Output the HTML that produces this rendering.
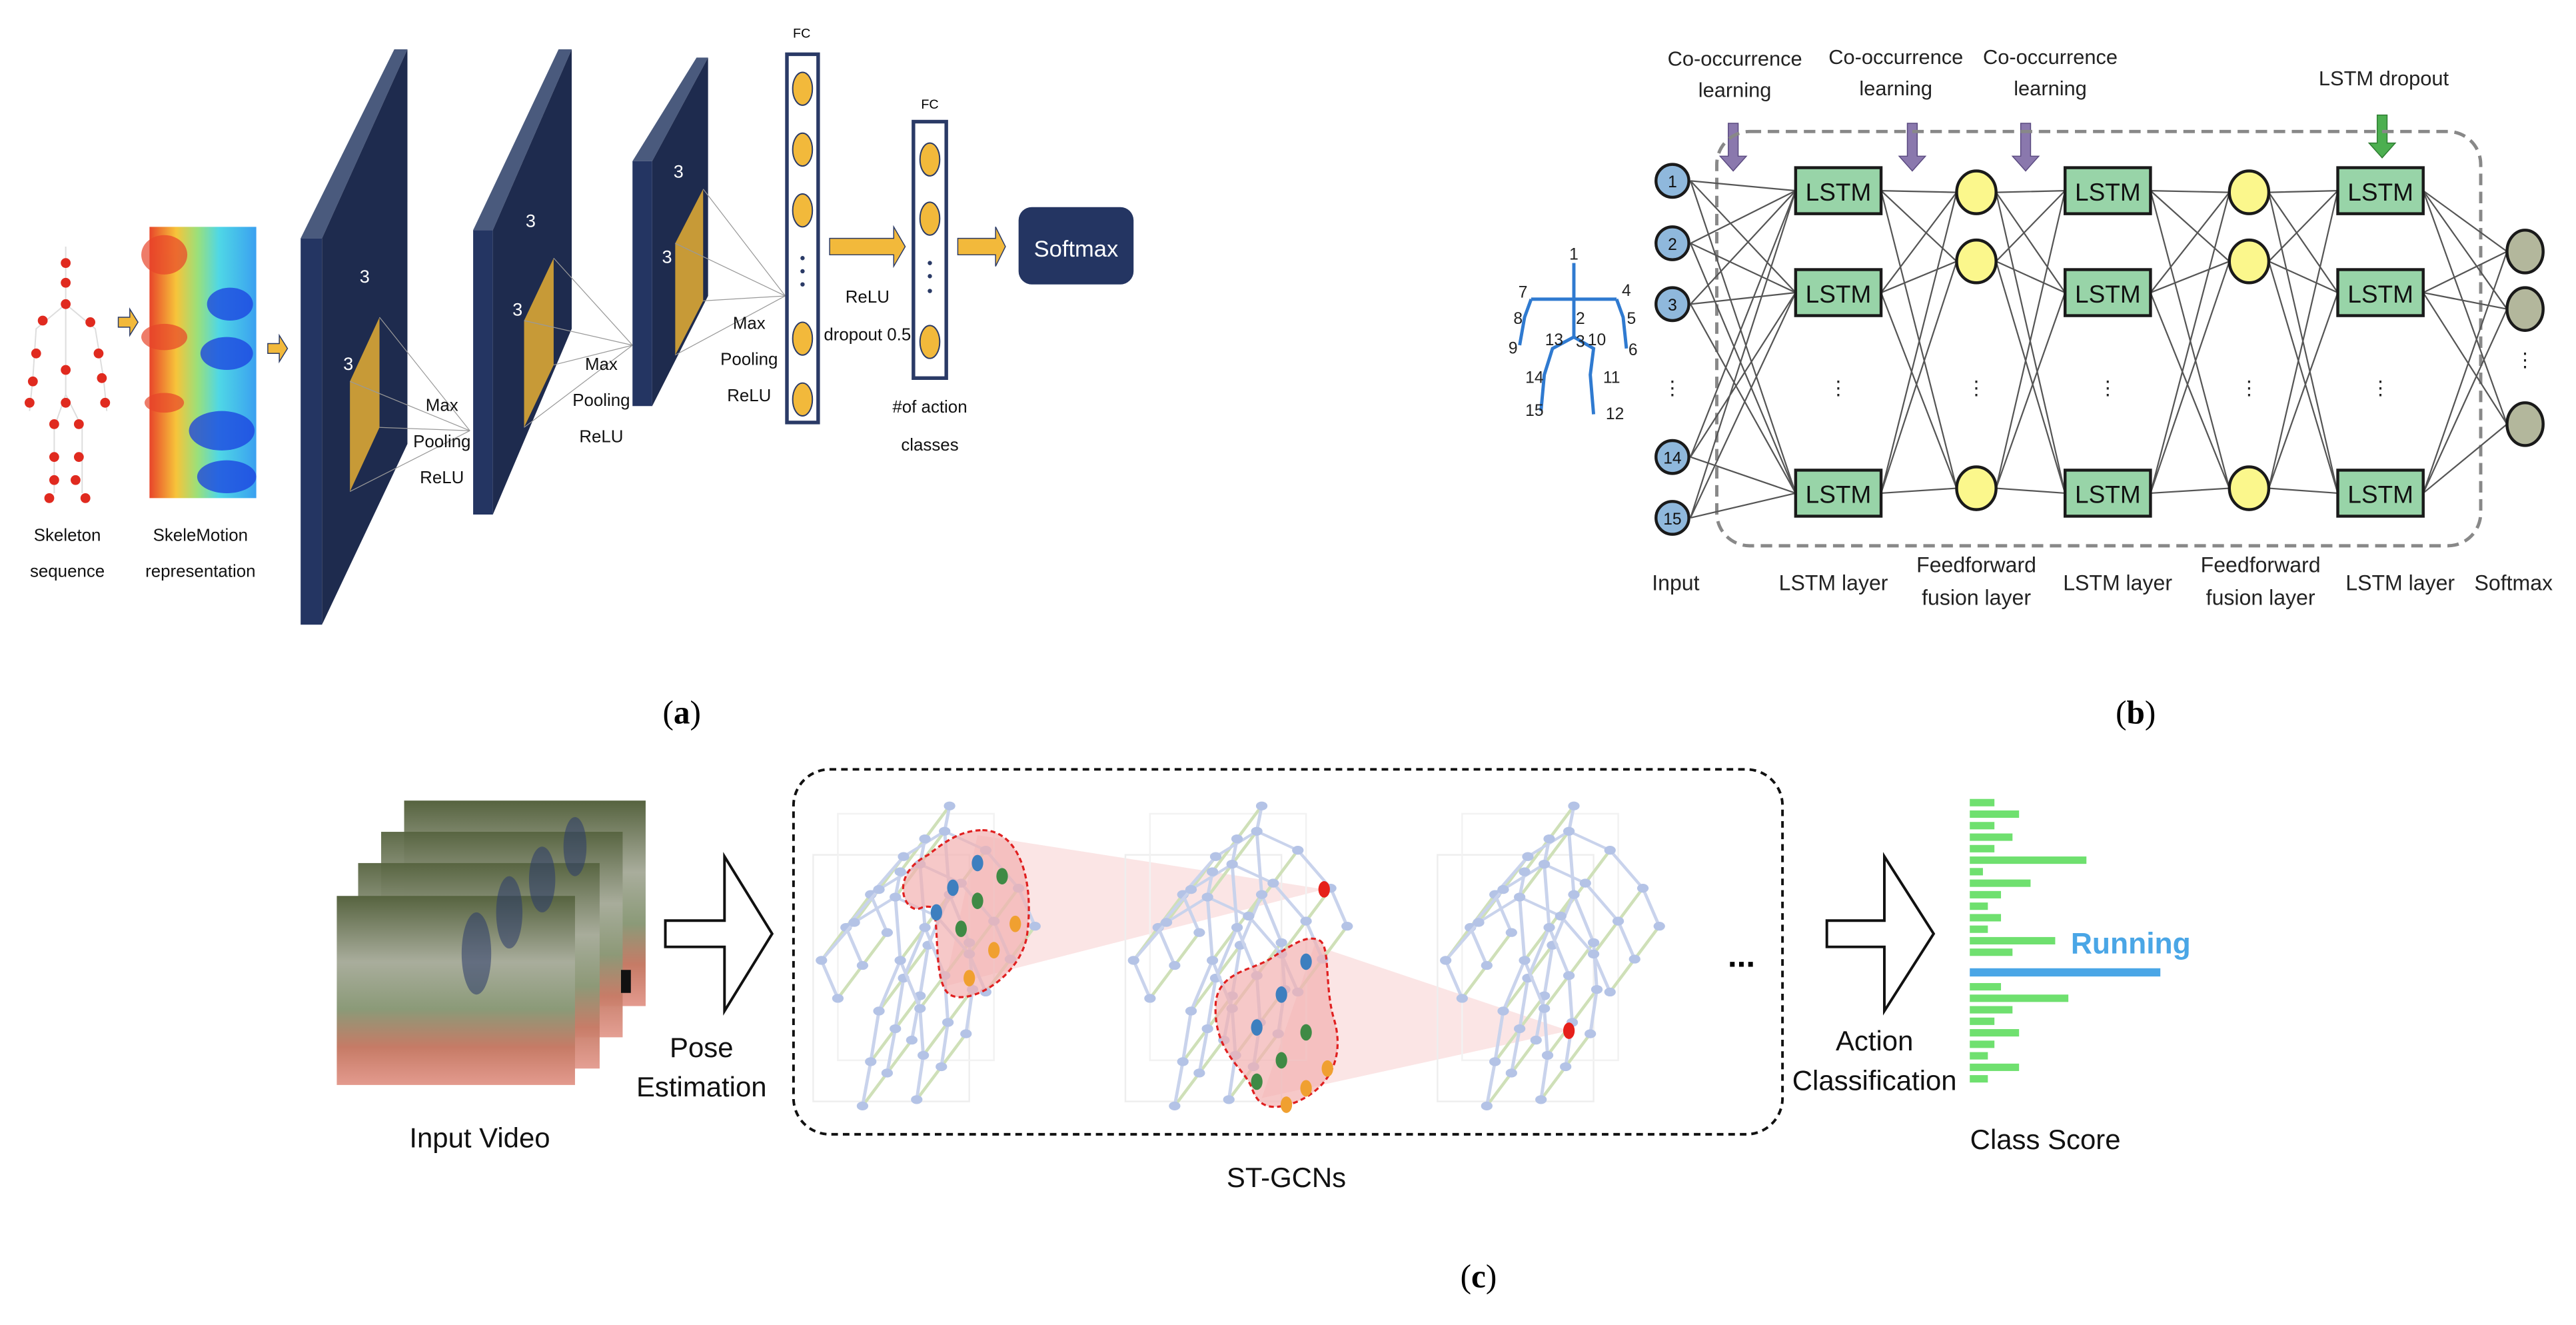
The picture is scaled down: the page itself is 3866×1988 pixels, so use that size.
<!DOCTYPE html>
<html><head><meta charset="utf-8"><style>
html,body{margin:0;padding:0;background:#fff;}
svg{display:block;}
text{font-family:"Liberation Sans",sans-serif;}
</style></head><body>
<svg width="3866" height="1988" viewBox="0 0 1568 806" preserveAspectRatio="none" xmlns="http://www.w3.org/2000/svg">
<defs>
<linearGradient id="heat" x1="0" y1="0" x2="1" y2="0">
<stop offset="0" stop-color="#e8452a"/><stop offset="0.25" stop-color="#f7c43a"/><stop offset="0.45" stop-color="#9be07a"/><stop offset="0.65" stop-color="#4fd7e6"/><stop offset="1" stop-color="#3aa0f0"/></linearGradient>
<linearGradient id="vid" x1="0" y1="0" x2="0" y2="1">
<stop offset="0" stop-color="#56633f"/><stop offset="0.35" stop-color="#a9ad9c"/><stop offset="0.6" stop-color="#8b9a78"/><stop offset="0.8" stop-color="#c67b66"/><stop offset="1" stop-color="#e39a8e"/></linearGradient>
<g id="sk">
<path d="M548 490L545 510L520 530L500 560L510 590M545 510L570 525L590 555L600 585M545 510L548 560L535 600L530 640L525 675M548 560L560 598L562 635L558 670" fill="none" stroke="#c9d3ec" stroke-width="2"/>
<g fill="#b4c3e6">
<circle cx="548" cy="490" r="3.5"/><circle cx="545" cy="510" r="3.5"/><circle cx="520" cy="530" r="3.5"/><circle cx="570" cy="525" r="3.5"/><circle cx="500" cy="560" r="3.5"/><circle cx="590" cy="555" r="3.5"/><circle cx="510" cy="590" r="3.5"/><circle cx="600" cy="585" r="3.5"/><circle cx="548" cy="560" r="3.5"/><circle cx="535" cy="600" r="3.5"/><circle cx="560" cy="598" r="3.5"/><circle cx="530" cy="640" r="3.5"/><circle cx="562" cy="635" r="3.5"/><circle cx="525" cy="675" r="3.5"/><circle cx="558" cy="670" r="3.5"/>
</g></g>
<g id="gr">
<rect x="495" y="520" width="95" height="150" fill="none" stroke="#eee" stroke-width="1"/>
<rect x="510" y="495" width="95" height="150" fill="none" stroke="#f2f2f2" stroke-width="1"/>
<g transform="translate(0,153) scale(1,0.77)">
<path d="M548 490l30 -52M545 510l30 -52M520 530l30 -52M570 525l30 -52M500 560l30 -52M590 555l30 -52M510 590l30 -52M600 585l30 -52M548 560l30 -52M535 600l30 -52M560 598l30 -52M530 640l30 -52M562 635l30 -52M525 675l30 -52M558 670l30 -52" stroke="#cfe0b8" stroke-width="2" fill="none"/>
<use href="#sk" transform="translate(30,-52)"/>
<use href="#sk" transform="translate(15,-26)"/>
<use href="#sk"/>
</g>
</g>
</defs>

<!-- ===== Panel (a) ===== -->
<g stroke="#ddd" stroke-width="0.8" fill="none">
<path d="M40 150L40 185L22 200L20 230L18 250M40 185L58 200L63 230L65 250M40 185L40 240L33 260L33 300M40 240L50 260L50 300"/>
</g>
<g fill="#e02a1f">
<circle cx="40" cy="160" r="3"/><circle cx="40" cy="172" r="3"/><circle cx="40" cy="185" r="3"/><circle cx="26" cy="195" r="3"/><circle cx="55" cy="196" r="3"/><circle cx="22" cy="215" r="3"/><circle cx="60" cy="215" r="3"/><circle cx="20" cy="232" r="3"/><circle cx="62" cy="230" r="3"/><circle cx="18" cy="245" r="3"/><circle cx="64" cy="245" r="3"/><circle cx="40" cy="225" r="3"/><circle cx="40" cy="245" r="3"/><circle cx="33" cy="258" r="3"/><circle cx="48" cy="258" r="3"/><circle cx="33" cy="278" r="3"/><circle cx="48" cy="278" r="3"/><circle cx="33" cy="292" r="3"/><circle cx="46" cy="292" r="3"/><circle cx="30" cy="303" r="3"/><circle cx="52" cy="303" r="3"/>
</g>
<path d="M72 193h7v-5l5 8l-5 8v-5h-7z" fill="#f2b93b" stroke="#2a3a66" stroke-width="0.6"/>
<rect x="91" y="138" width="65" height="165" fill="url(#heat)"/>
<g fill="#1a3fe0" opacity="0.75"><ellipse cx="140" cy="185" rx="14" ry="10"/><ellipse cx="138" cy="215" rx="16" ry="10"/><ellipse cx="135" cy="262" rx="20" ry="12"/><ellipse cx="138" cy="290" rx="18" ry="10"/></g>
<g fill="#e8452a" opacity="0.7"><ellipse cx="100" cy="155" rx="14" ry="12"/><ellipse cx="100" cy="205" rx="14" ry="8"/><ellipse cx="100" cy="245" rx="12" ry="6"/></g>
<path d="M163 209h7v-5l5 8l-5 8v-5h-7z" fill="#f2b93b" stroke="#2a3a66" stroke-width="0.6"/>
<g font-size="10.5" fill="#111" text-anchor="middle">
<text x="41" y="329">Skeleton</text><text x="41" y="351">sequence</text>
<text x="122" y="329">SkeleMotion</text><text x="122" y="351">representation</text>
</g>
<!-- block 1 -->
<polygon points="183,145 196,145 248,30 240,30" fill="#4a5a7d"/>
<polygon points="183,145 196,145 196,380 183,380" fill="#243562"/>
<polygon points="196,145 248,30 248,270 196,380" fill="#1e2b4e"/>
<polygon points="213,232 231,193 231,260 213,299" fill="#c79a37"/>
<g stroke="#999" stroke-width="0.5"><line x1="231" y1="193" x2="286" y2="262"/><line x1="213" y1="232" x2="286" y2="262"/><line x1="231" y1="260" x2="286" y2="262"/><line x1="213" y1="299" x2="286" y2="262"/></g>
<!-- block 2 -->
<polygon points="288,140 300,140 348,30 340,30" fill="#4a5a7d"/>
<polygon points="288,140 300,140 300,313 288,313" fill="#243562"/>
<polygon points="300,140 348,30 348,200 300,313" fill="#1e2b4e"/>
<polygon points="319,195 337,157 337,222 319,260" fill="#c79a37"/>
<g stroke="#999" stroke-width="0.5"><line x1="337" y1="157" x2="385" y2="210"/><line x1="319" y1="195" x2="385" y2="210"/><line x1="337" y1="222" x2="385" y2="210"/><line x1="319" y1="260" x2="385" y2="210"/></g>
<!-- block 3 -->
<polygon points="385,98 397,98 431,35 424,35" fill="#4a5a7d"/>
<polygon points="385,98 397,98 397,247 385,247" fill="#243562"/>
<polygon points="397,98 431,35 431,180 397,247" fill="#1e2b4e"/>
<polygon points="411,148 428,115 428,183 411,216" fill="#c79a37"/>
<g stroke="#999" stroke-width="0.5"><line x1="428" y1="115" x2="478" y2="180"/><line x1="411" y1="148" x2="478" y2="180"/><line x1="428" y1="183" x2="478" y2="180"/><line x1="411" y1="216" x2="478" y2="180"/></g>
<g fill="#fff" font-size="11" text-anchor="middle">
<text x="222" y="172">3</text><text x="212" y="225">3</text>
<text x="323" y="138">3</text><text x="315" y="192">3</text>
<text x="413" y="108">3</text><text x="406" y="160">3</text>
</g>
<!-- FC1 -->
<rect x="479" y="33" width="19" height="224" fill="#fff" stroke="#2a3a66" stroke-width="2.2"/>
<g fill="#f2b93b" stroke="#2a3a66" stroke-width="0.8">
<ellipse cx="488.5" cy="54" rx="6" ry="10"/><ellipse cx="488.5" cy="91" rx="6" ry="10"/><ellipse cx="488.5" cy="128" rx="6" ry="10"/><ellipse cx="488.5" cy="206" rx="6" ry="10"/><ellipse cx="488.5" cy="243" rx="6" ry="10"/></g>
<g fill="#2a3a66"><circle cx="488.5" cy="157" r="1.3"/><circle cx="488.5" cy="165" r="1.3"/><circle cx="488.5" cy="173" r="1.3"/></g>
<text x="488" y="23" font-size="8" text-anchor="middle">FC</text>
<path d="M505 145h39v-7l7 12l-7 12v-7h-39z" fill="#f2b93b" stroke="#2a3a66" stroke-width="0.6"/>
<!-- FC2 -->
<rect x="556" y="74" width="20" height="156" fill="#fff" stroke="#2a3a66" stroke-width="2.2"/>
<g fill="#f2b93b" stroke="#2a3a66" stroke-width="0.8">
<ellipse cx="566" cy="97" rx="6" ry="10"/><ellipse cx="566" cy="133" rx="6" ry="10"/><ellipse cx="566" cy="208" rx="6" ry="10"/></g>
<g fill="#2a3a66"><circle cx="566" cy="160" r="1.3"/><circle cx="566" cy="168" r="1.3"/><circle cx="566" cy="177" r="1.3"/></g>
<text x="566" y="66" font-size="8" text-anchor="middle">FC</text>
<path d="M583 145h23v-7l6 12l-6 12v-7h-23z" fill="#f2b93b" stroke="#2a3a66" stroke-width="0.6"/>
<rect x="620" y="126" width="70" height="47" rx="8" fill="#243562"/>
<text x="655" y="156" font-size="14" fill="#fff" text-anchor="middle">Softmax</text>
<g font-size="10.5" fill="#111" text-anchor="middle">
<text x="269" y="250">Max</text><text x="269" y="272">Pooling</text><text x="269" y="294">ReLU</text>
<text x="366" y="225">Max</text><text x="366" y="247">Pooling</text><text x="366" y="269">ReLU</text>
<text x="456" y="200">Max</text><text x="456" y="222">Pooling</text><text x="456" y="244">ReLU</text>
<text x="528" y="184">ReLU</text><text x="528" y="207">dropout 0.5</text>
<text x="566" y="251">#of action</text><text x="566" y="274">classes</text>
</g>
<text x="415" y="440" font-size="20" text-anchor="middle" style="font-family:'Liberation Serif',serif">(<tspan font-weight="bold">a</tspan>)</text>

<!-- ===== Panel (b) ===== -->
<g font-size="12.5" fill="#222" text-anchor="middle">
<text x="1056" y="40">Co-occurrence</text><text x="1056" y="59">learning</text>
<text x="1154" y="39">Co-occurrence</text><text x="1154" y="58">learning</text>
<text x="1248" y="39">Co-occurrence</text><text x="1248" y="58">learning</text>
<text x="1451" y="52">LSTM dropout</text>
</g>
<g fill="#8a78ad" stroke="#5a4a80" stroke-width="0.6">
<path d="M1052 75h6v20h5l-8 9l-8 -9h5z"/>
<path d="M1161 75h6v20h5l-8 9l-8 -9h5z"/>
<path d="M1230 75h6v20h5l-8 9l-8 -9h5z"/>
</g>
<path d="M1447 70h6v17h5l-8 9l-8 -9h5z" fill="#4caf50" stroke="#2e7d32" stroke-width="0.6"/>
<rect x="1045" y="80" width="465" height="252" rx="20" fill="none" stroke="#888" stroke-width="2" stroke-dasharray="7,4"/>
<g stroke="#555" stroke-width="0.9" fill="none">
<path d="M1029 110L1093 116M1029 110L1093 178M1029 110L1093 300M1029 148L1093 116M1029 148L1093 178M1029 148L1093 300M1029 185L1093 116M1029 185L1093 178M1029 185L1093 300M1029 278L1093 116M1029 278L1093 178M1029 278L1093 300M1029 315L1093 116M1029 315L1093 178M1029 315L1093 300"/>
<path d="M1145 116L1191 117M1145 116L1191 159M1145 116L1191 297M1145 178L1191 117M1145 178L1191 159M1145 178L1191 297M1145 300L1191 117M1145 300L1191 159M1145 300L1191 297"/>
<path d="M1215 117L1257 116M1215 117L1257 178M1215 117L1257 300M1215 159L1257 116M1215 159L1257 178M1215 159L1257 300M1215 297L1257 116M1215 297L1257 178M1215 297L1257 300"/>
<path d="M1309 116L1357 117M1309 116L1357 159M1309 116L1357 297M1309 178L1357 117M1309 178L1357 159M1309 178L1357 297M1309 300L1357 117M1309 300L1357 159M1309 300L1357 297"/>
<path d="M1381 117L1423 116M1381 117L1423 178M1381 117L1423 300M1381 159L1423 116M1381 159L1423 178M1381 159L1423 300M1381 297L1423 116M1381 297L1423 178M1381 297L1423 300"/>
<path d="M1475 116L1526 153M1475 116L1526 188M1475 116L1526 258M1475 178L1526 153M1475 178L1526 188M1475 178L1526 258M1475 300L1526 153M1475 300L1526 188M1475 300L1526 258"/>
</g>
<g fill="#8fb8dc" stroke="#1a1a1a" stroke-width="1.8">
<circle cx="1018" cy="110" r="10"/><circle cx="1018" cy="148" r="10"/><circle cx="1018" cy="185" r="10"/><circle cx="1018" cy="278" r="10"/><circle cx="1018" cy="315" r="10"/></g>
<g font-size="10" text-anchor="middle" fill="#111">
<text x="1018" y="114">1</text><text x="1018" y="152">2</text><text x="1018" y="189">3</text><text x="1018" y="282">14</text><text x="1018" y="319">15</text></g>
<g fill="#98d4a8" stroke="#1a1a1a" stroke-width="1.8">
<rect x="1093" y="102" width="52" height="28"/><rect x="1093" y="164" width="52" height="28"/><rect x="1093" y="286" width="52" height="28"/>
<rect x="1257" y="102" width="52" height="28"/><rect x="1257" y="164" width="52" height="28"/><rect x="1257" y="286" width="52" height="28"/>
<rect x="1423" y="102" width="52" height="28"/><rect x="1423" y="164" width="52" height="28"/><rect x="1423" y="286" width="52" height="28"/>
</g>
<g font-size="15" text-anchor="middle" fill="#111">
<text x="1119" y="122">LSTM</text><text x="1119" y="184">LSTM</text><text x="1119" y="306">LSTM</text>
<text x="1283" y="122">LSTM</text><text x="1283" y="184">LSTM</text><text x="1283" y="306">LSTM</text>
<text x="1449" y="122">LSTM</text><text x="1449" y="184">LSTM</text><text x="1449" y="306">LSTM</text>
</g>
<g fill="#fbf78c" stroke="#1a1a1a" stroke-width="1.8">
<ellipse cx="1203" cy="117" rx="12" ry="13"/><ellipse cx="1203" cy="159" rx="12" ry="13"/><ellipse cx="1203" cy="297" rx="12" ry="13"/>
<ellipse cx="1369" cy="117" rx="12" ry="13"/><ellipse cx="1369" cy="159" rx="12" ry="13"/><ellipse cx="1369" cy="297" rx="12" ry="13"/></g>
<g fill="#b3b79c" stroke="#1a1a1a" stroke-width="1.8">
<ellipse cx="1537" cy="153" rx="11" ry="13"/><ellipse cx="1537" cy="188" rx="11" ry="13"/><ellipse cx="1537" cy="258" rx="11" ry="13"/></g>
<g font-size="12" text-anchor="middle" fill="#222">
<text x="1018" y="240">⋮</text><text x="1119" y="240">⋮</text><text x="1203" y="240">⋮</text><text x="1283" y="240">⋮</text><text x="1369" y="240">⋮</text><text x="1449" y="240">⋮</text><text x="1537" y="223">⋮</text></g>
<path d="M958 160V182M932 182H984M958 182V205L945 212L940 228L938 250M958 205L970 212L968 228L970 252M932 182L928 193L925 210M984 182L988 193L990 212" fill="none" stroke="#2f7ad0" stroke-width="2"/>
<g font-size="10" fill="#222" text-anchor="middle">
<text x="958" y="158">1</text><text x="962" y="197">2</text><text x="962" y="211">3</text><text x="927" y="181">7</text><text x="990" y="180">4</text><text x="924" y="197">8</text><text x="993" y="197">5</text><text x="921" y="215">9</text><text x="994" y="216">6</text><text x="946" y="210">13</text><text x="972" y="210">10</text><text x="934" y="233">14</text><text x="981" y="233">11</text><text x="934" y="253">15</text><text x="983" y="255">12</text></g>
<g font-size="13" text-anchor="middle" fill="#222">
<text x="1020" y="359">Input</text><text x="1116" y="359">LSTM layer</text>
<text x="1203" y="348">Feedforward</text><text x="1203" y="368">fusion layer</text>
<text x="1289" y="359">LSTM layer</text>
<text x="1376" y="348">Feedforward</text><text x="1376" y="368">fusion layer</text>
<text x="1461" y="359">LSTM layer</text><text x="1530" y="359">Softmax</text></g>
<text x="1300" y="440" font-size="20" text-anchor="middle" style="font-family:'Liberation Serif',serif">(<tspan font-weight="bold">b</tspan>)</text>

<!-- ===== Panel (c) ===== -->
<g>
<rect x="246" y="487" width="147" height="125" fill="url(#vid)"/>
<rect x="232" y="506" width="147" height="125" fill="url(#vid)" opacity="0.95"/>
<rect x="218" y="525" width="147" height="125" fill="url(#vid)" opacity="0.95"/>
<rect x="205" y="545" width="145" height="115" fill="url(#vid)"/>
<g fill="#2b3b6a" opacity="0.55"><ellipse cx="290" cy="580" rx="9" ry="25"/><ellipse cx="310" cy="555" rx="8" ry="22"/><ellipse cx="330" cy="535" rx="8" ry="20"/><ellipse cx="350" cy="515" rx="7" ry="18"/></g>
<rect x="378" y="590" width="6" height="14" fill="#111"/>
</g>
<path d="M405 560h36v-39l29 47l-29 47v-39h-36z" fill="#fff" stroke="#111" stroke-width="1.6"/>
<g font-size="17" text-anchor="middle" fill="#111">
<text x="427" y="643">Pose</text><text x="427" y="667">Estimation</text>
<text x="292" y="698">Input Video</text><text x="783" y="722">ST-GCNs</text>
<text x="1245" y="699">Class Score</text>
<text x="1141" y="639">Action</text><text x="1141" y="663">Classification</text>
</g>
<rect x="483" y="468" width="602" height="222" rx="22" fill="none" stroke="#111" stroke-width="1.6" stroke-dasharray="4,3"/>
<polygon points="595,508 806,541 575,600" fill="#f4b4b4" opacity="0.35"/>
<polygon points="800,575 955,627 768,668" fill="#f4b4b4" opacity="0.35"/>
<use href="#gr"/>
<use href="#gr" transform="translate(190,0)"/>
<use href="#gr" transform="translate(380,0)"/>
<path d="M598 505C620 505 630 535 625 570C620 595 590 612 578 605C568 598 572 565 568 552C560 550 560 555 555 552C548 548 545 530 565 520C575 512 585 505 598 505Z" fill="#f2b0b0" fill-opacity="0.7" stroke="#e02020" stroke-width="1.3" stroke-dasharray="3,2"/>
<path d="M803 572C810 575 806 600 812 620C818 640 812 660 790 670C770 678 765 670 762 662C758 650 738 640 740 610C742 590 765 590 775 582C785 576 795 568 803 572Z" fill="#f2b0b0" fill-opacity="0.7" stroke="#e02020" stroke-width="1.3" stroke-dasharray="3,2"/>
<g>
<ellipse cx="595" cy="525" rx="3.5" ry="5" fill="#3d7fbf"/><ellipse cx="580" cy="540" rx="3.5" ry="5" fill="#3d7fbf"/><ellipse cx="570" cy="555" rx="3.5" ry="5" fill="#3d7fbf"/>
<ellipse cx="610" cy="533" rx="3.5" ry="5" fill="#3f8a45"/><ellipse cx="595" cy="548" rx="3.5" ry="5" fill="#3f8a45"/><ellipse cx="585" cy="565" rx="3.5" ry="5" fill="#3f8a45"/>
<ellipse cx="618" cy="562" rx="3.5" ry="5" fill="#f0a030"/><ellipse cx="605" cy="578" rx="3.5" ry="5" fill="#f0a030"/><ellipse cx="590" cy="595" rx="3.5" ry="5" fill="#f0a030"/>
<ellipse cx="806" cy="541" rx="3.5" ry="5" fill="#e6201a"/>
<ellipse cx="795" cy="585" rx="3.5" ry="5" fill="#3d7fbf"/><ellipse cx="780" cy="605" rx="3.5" ry="5" fill="#3d7fbf"/><ellipse cx="765" cy="625" rx="3.5" ry="5" fill="#3d7fbf"/>
<ellipse cx="795" cy="628" rx="3.5" ry="5" fill="#3f8a45"/><ellipse cx="780" cy="645" rx="3.5" ry="5" fill="#3f8a45"/><ellipse cx="765" cy="658" rx="3.5" ry="5" fill="#3f8a45"/>
<ellipse cx="808" cy="650" rx="3.5" ry="5" fill="#f0a030"/><ellipse cx="795" cy="662" rx="3.5" ry="5" fill="#f0a030"/><ellipse cx="783" cy="672" rx="3.5" ry="5" fill="#f0a030"/>
<ellipse cx="955" cy="627" rx="3.5" ry="5" fill="#e6201a"/>
</g>
<text x="1060" y="588" font-size="20" font-weight="bold" text-anchor="middle">...</text>
<path d="M1112 560h35v-39l30 47l-30 47v-39h-35z" fill="#fff" stroke="#111" stroke-width="1.6"/>
<g fill="#6fe06f">
<rect x="1199" y="486" width="15" height="4.5"/><rect x="1199" y="493" width="30" height="4.5"/><rect x="1199" y="500" width="15" height="4.5"/><rect x="1199" y="507" width="26" height="4.5"/><rect x="1199" y="514" width="15" height="4.5"/><rect x="1199" y="521" width="71" height="4.5"/><rect x="1199" y="528" width="8" height="4.5"/><rect x="1199" y="535" width="37" height="4.5"/><rect x="1199" y="542" width="19" height="4.5"/><rect x="1199" y="549" width="11" height="4.5"/><rect x="1199" y="556" width="19" height="4.5"/><rect x="1199" y="563" width="11" height="4.5"/><rect x="1199" y="570" width="52" height="4.5"/><rect x="1199" y="577" width="26" height="4.5"/>
<rect x="1199" y="598" width="19" height="4.5"/><rect x="1199" y="605" width="60" height="4.5"/><rect x="1199" y="612" width="26" height="4.5"/><rect x="1199" y="619" width="15" height="4.5"/><rect x="1199" y="626" width="30" height="4.5"/><rect x="1199" y="633" width="15" height="4.5"/><rect x="1199" y="640" width="11" height="4.5"/><rect x="1199" y="647" width="30" height="4.5"/><rect x="1199" y="654" width="11" height="4.5"/></g>
<rect x="1199" y="589" width="116" height="5" fill="#4aa6e6"/>
<text x="1297" y="580" font-size="18" font-weight="bold" fill="#4aa6e6" text-anchor="middle">Running</text>
<text x="900" y="783" font-size="20" text-anchor="middle" style="font-family:'Liberation Serif',serif">(<tspan font-weight="bold">c</tspan>)</text>
</svg>
</body></html>
